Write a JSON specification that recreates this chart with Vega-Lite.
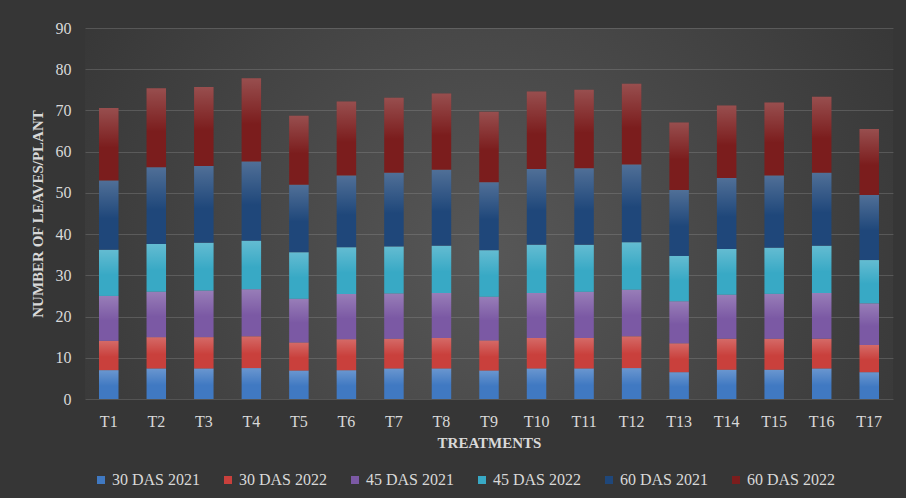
{
  "$schema": "https://vega.github.io/schema/vega-lite/v6.json",
  "width": 808,
  "height": 371,
  "autosize": {"type": "none"},
  "padding": {"left": 85, "top": 28, "right": 13, "bottom": 99},
  "background": "#363636",
  "view": {
    "stroke": null,
    "fill": {
      "gradient": "radial",
      "x1": 0.5, "y1": 0.55, "r1": 0,
      "x2": 0.5, "y2": 0.55, "r2": 0.62,
      "stops": [
        {"offset": 0, "color": "#575757"},
        {"offset": 1, "color": "#353535"}
      ]
    }
  },
  "data": {
    "values": [
      {"t": "T1", "30 DAS 2021": 7.0, "30 DAS 2022": 7.1, "45 DAS 2021": 10.9, "45 DAS 2022": 11.2, "60 DAS 2021": 16.8, "60 DAS 2022": 17.6},
      {"t": "T2", "30 DAS 2021": 7.4, "30 DAS 2022": 7.6, "45 DAS 2021": 11.0, "45 DAS 2022": 11.6, "60 DAS 2021": 18.6, "60 DAS 2022": 19.2},
      {"t": "T3", "30 DAS 2021": 7.4, "30 DAS 2022": 7.6, "45 DAS 2021": 11.3, "45 DAS 2022": 11.6, "60 DAS 2021": 18.6, "60 DAS 2022": 19.2},
      {"t": "T4", "30 DAS 2021": 7.5, "30 DAS 2022": 7.7, "45 DAS 2021": 11.4, "45 DAS 2022": 11.8, "60 DAS 2021": 19.2, "60 DAS 2022": 20.2},
      {"t": "T5", "30 DAS 2021": 6.9, "30 DAS 2022": 6.8, "45 DAS 2021": 10.6, "45 DAS 2022": 11.3, "60 DAS 2021": 16.4, "60 DAS 2022": 16.7},
      {"t": "T6", "30 DAS 2021": 7.0, "30 DAS 2022": 7.5, "45 DAS 2021": 11.0, "45 DAS 2022": 11.3, "60 DAS 2021": 17.4, "60 DAS 2022": 18.0},
      {"t": "T7", "30 DAS 2021": 7.4, "30 DAS 2022": 7.2, "45 DAS 2021": 11.0, "45 DAS 2022": 11.4, "60 DAS 2021": 17.9, "60 DAS 2022": 18.2},
      {"t": "T8", "30 DAS 2021": 7.4, "30 DAS 2022": 7.4, "45 DAS 2021": 10.9, "45 DAS 2022": 11.5, "60 DAS 2021": 18.4, "60 DAS 2022": 18.5},
      {"t": "T9", "30 DAS 2021": 6.9, "30 DAS 2022": 7.3, "45 DAS 2021": 10.6, "45 DAS 2022": 11.3, "60 DAS 2021": 16.5, "60 DAS 2022": 17.1},
      {"t": "T10", "30 DAS 2021": 7.4, "30 DAS 2022": 7.4, "45 DAS 2021": 10.9, "45 DAS 2022": 11.7, "60 DAS 2021": 18.4, "60 DAS 2022": 18.8},
      {"t": "T11", "30 DAS 2021": 7.4, "30 DAS 2022": 7.4, "45 DAS 2021": 11.2, "45 DAS 2022": 11.4, "60 DAS 2021": 18.6, "60 DAS 2022": 19.0},
      {"t": "T12", "30 DAS 2021": 7.5, "30 DAS 2022": 7.7, "45 DAS 2021": 11.3, "45 DAS 2022": 11.5, "60 DAS 2021": 18.9, "60 DAS 2022": 19.6},
      {"t": "T13", "30 DAS 2021": 6.5, "30 DAS 2022": 7.0, "45 DAS 2021": 10.2, "45 DAS 2022": 11.0, "60 DAS 2021": 16.0, "60 DAS 2022": 16.4},
      {"t": "T14", "30 DAS 2021": 7.1, "30 DAS 2022": 7.5, "45 DAS 2021": 10.7, "45 DAS 2022": 11.1, "60 DAS 2021": 17.2, "60 DAS 2022": 17.6},
      {"t": "T15", "30 DAS 2021": 7.1, "30 DAS 2022": 7.5, "45 DAS 2021": 10.9, "45 DAS 2022": 11.2, "60 DAS 2021": 17.5, "60 DAS 2022": 17.7},
      {"t": "T16", "30 DAS 2021": 7.4, "30 DAS 2022": 7.2, "45 DAS 2021": 11.1, "45 DAS 2022": 11.5, "60 DAS 2021": 17.7, "60 DAS 2022": 18.4},
      {"t": "T17", "30 DAS 2021": 6.5, "30 DAS 2022": 6.6, "45 DAS 2021": 10.1, "45 DAS 2022": 10.5, "60 DAS 2021": 15.8, "60 DAS 2022": 16.0}
    ]
  },
  "transform": [
    {"fold": ["30 DAS 2021", "30 DAS 2022", "45 DAS 2021", "45 DAS 2022", "60 DAS 2021", "60 DAS 2022"], "as": ["s", "v"]}
  ],
  "encoding": {
    "x": {
      "field": "t", "type": "nominal", "sort": null,
      "scale": {"paddingInner": 0.59, "paddingOuter": 0.295},
      "axis": {"title": "TREATMENTS", "labelAngle": 0, "labelPadding": 14, "titlePadding": 6, "ticks": false, "domain": false, "grid": false}
    },
    "y": {
      "field": "v", "type": "quantitative", "aggregate": "sum", "stack": "zero",
      "scale": {"domain": [0, 90], "nice": false},
      "axis": {"title": "NUMBER OF LEAVES/PLANT", "values": [0, 10, 20, 30, 40, 50, 60, 70, 80, 90], "ticks": false, "domain": false, "labelPadding": 14, "titlePadding": 10}
    },
    "order": {"field": "s", "type": "ordinal", "sort": "ascending"}
  },
  "layer": [
    {
      "mark": {"type": "bar"},
      "encoding": {
        "color": {
          "field": "s", "type": "nominal",
          "scale": {
            "domain": ["30 DAS 2021", "30 DAS 2022", "45 DAS 2021", "45 DAS 2022", "60 DAS 2021", "60 DAS 2022"],
            "range": ["#4079c2", "#c9403c", "#7b59a4", "#38a9c5", "#1f477a", "#7b1d1d"]
          },
          "legend": {
            "title": null, "orient": "none", "legendX": 8, "legendY": 444, "direction": "horizontal",
            "symbolType": "square", "symbolSize": 64, "symbolStrokeWidth": 0,
            "labelFontSize": 16, "labelColor": "#d9d9d9", "labelFont": "Liberation Serif",
            "columnPadding": 19, "labelOffset": 3
          }
        }
      }
    },
    {
      "mark": {
        "type": "bar",
        "fill": {
          "gradient": "linear", "x1": 0, "y1": 0, "x2": 0, "y2": 1,
          "stops": [
            {"offset": 0, "color": "rgba(255,255,255,0.22)"},
            {"offset": 0.55, "color": "rgba(255,255,255,0)"},
            {"offset": 1, "color": "rgba(255,255,255,0)"}
          ]
        }
      },
      "encoding": {"detail": {"field": "s", "type": "nominal"}}
    }
  ],
  "config": {
    "font": "Liberation Serif",
    "axis": {
      "labelFont": "Liberation Serif", "labelFontSize": 16, "labelColor": "#d9d9d9",
      "titleFont": "Liberation Serif", "titleFontSize": 15, "titleFontWeight": "bold", "titleColor": "#d9d9d9",
      "gridColor": "#9a9a9a", "gridOpacity": 0.3, "gridWidth": 1
    }
  }
}
